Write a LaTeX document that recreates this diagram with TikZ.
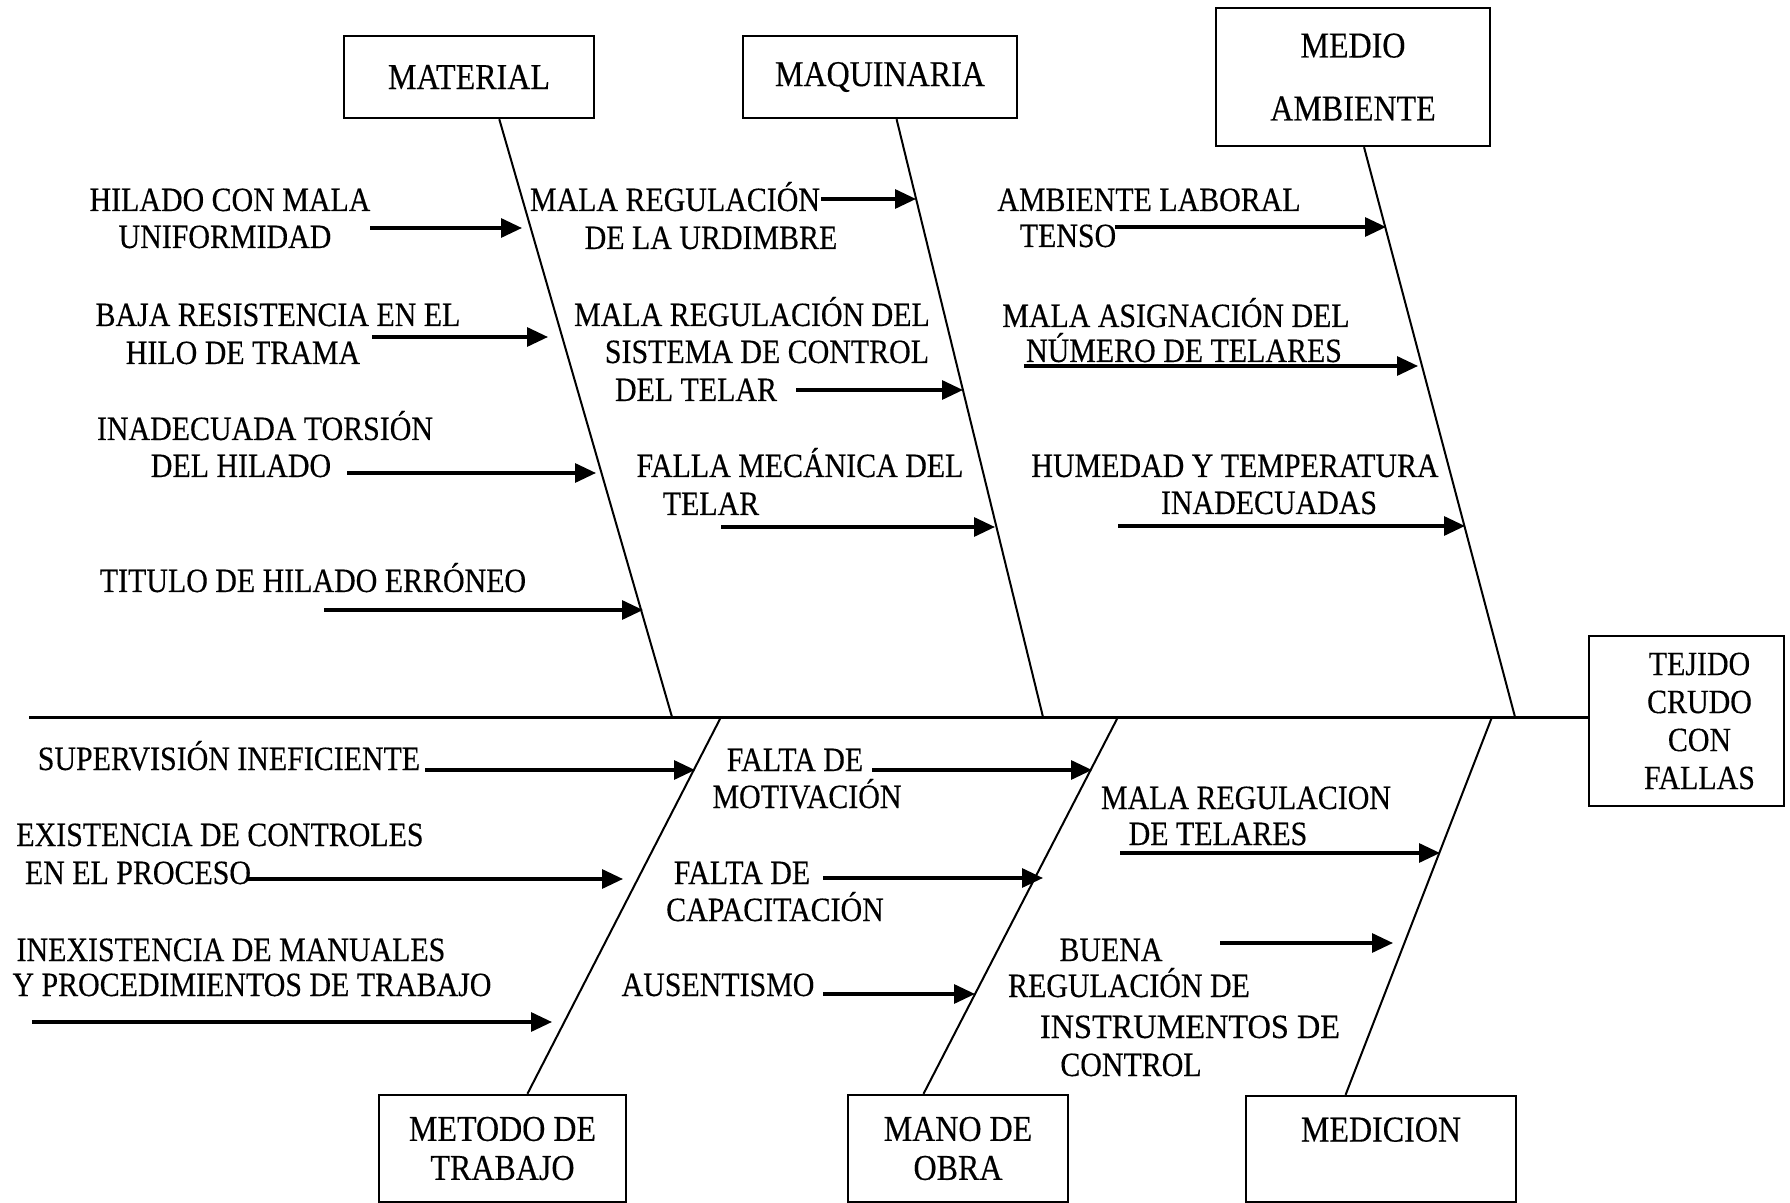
\documentclass[tikz,border=0pt]{standalone}
\usepackage{fontspec}
\setmainfont{Liberation Serif}[FakeStretch=0.88, FakeBold=0.3]
\usetikzlibrary{calc,arrows.meta}

\begin{document}
\begin{tikzpicture}[x=0.5pt, y=-0.5pt,
  box/.style={draw, line width=1.2pt, inner sep=0pt, align=center, font=\fontsize{18.2}{19.5}\selectfont},
  txt/.style={inner sep=0pt, anchor=base, font=\fontsize{17}{18.5}\selectfont},
  bone/.style={line width=1pt},
  arr/.style={line width=1.6pt, -{Triangle[length=10.5pt,width=9.5pt]}}]

  \useasboundingbox (0,0) rectangle (1790,1203);

  \node[box, minimum width=125pt, minimum height=41pt] (material) at (469,77) {MATERIAL};
  \node[box, minimum width=137pt, minimum height=41pt] (maquinaria) at (880,77) {MAQUINARIA};
  \node[box, minimum width=137pt, minimum height=69pt] (medio) at (1353,77) {MEDIO\\[12pt]AMBIENTE};
  \node[box, minimum width=97.5pt, minimum height=85pt, font=\fontsize{17}{19}\selectfont] (tejido) at (1686.5,721)
    {\hspace*{13pt}TEJIDO\\\hspace*{13pt}CRUDO\\\hspace*{13pt}CON\\\hspace*{13pt}FALLAS};
  \node[box, minimum width=123.5pt, minimum height=53.5pt] (metodo) at (502.5,1148.5) {METODO DE\\TRABAJO};
  \node[box, minimum width=110pt, minimum height=53.5pt] (mano) at (958,1148.5) {MANO DE\\OBRA};
  \node[box, minimum width=135pt, minimum height=53pt] (medicion) at (1381,1149) {MEDICION\\~};

  \node[txt] (mat1a) at (230,211) {HILADO CON MALA};
  \node[txt] (mat1b) at (225,248) {UNIFORMIDAD};
  \node[txt] (mat2a) at (278,326) {BAJA RESISTENCIA EN EL};
  \node[txt] (mat2b) at (243,364) {HILO DE TRAMA};
  \node[txt] (mat3a) at (265,440) {INADECUADA TORSIÓN};
  \node[txt] (mat3b) at (241,477) {DEL HILADO};
  \node[txt] (mat4a) at (313,592) {TITULO DE HILADO ERRÓNEO};

  \node[txt] (maq1a) at (675,211) {MALA REGULACIÓN};
  \node[txt] (maq1b) at (711,249) {DE LA URDIMBRE};
  \node[txt] (maq2a) at (752,326) {MALA REGULACIÓN DEL};
  \node[txt] (maq2b) at (767,363) {SISTEMA DE CONTROL};
  \node[txt] (maq2c) at (696,401) {DEL TELAR};
  \node[txt] (maq3a) at (800,477) {FALLA MECÁNICA DEL};
  \node[txt] (maq3b) at (711,515) {TELAR};

  \node[txt] (med1a) at (1149,211) {AMBIENTE LABORAL};
  \node[txt] (med1b) at (1068,247) {TENSO};
  \node[txt] (med2a) at (1176,327) {MALA ASIGNACIÓN DEL};
  \node[txt] (med2b) at (1184,362) {NÚMERO DE TELARES};
  \node[txt] (med3a) at (1235,477) {HUMEDAD Y TEMPERATURA};
  \node[txt] (med3b) at (1269,514) {INADECUADAS};

  \node[txt] (met1a) at (229,770) {SUPERVISIÓN INEFICIENTE};
  \node[txt] (met2a) at (220,846) {EXISTENCIA DE CONTROLES};
  \node[txt] (met2b) at (138,884) {EN EL PROCESO};
  \node[txt] (met3a) at (231,961) {INEXISTENCIA DE MANUALES};
  \node[txt] (met3b) at (252,996) {Y PROCEDIMIENTOS DE TRABAJO};

  \node[txt] (man1a) at (795,771) {FALTA DE};
  \node[txt] (man1b) at (807,808) {MOTIVACIÓN};
  \node[txt] (man2a) at (742,884) {FALTA DE};
  \node[txt] (man2b) at (775,921) {CAPACITACIÓN};
  \node[txt] (man3a) at (718,996) {AUSENTISMO};

  \node[txt] (mdc1a) at (1246,809) {MALA REGULACION};
  \node[txt] (mdc1b) at (1218,845) {DE TELARES};
  \node[txt] (mdc2a) at (1111,961) {BUENA};
  \node[txt] (mdc2b) at (1129,997) {REGULACIÓN DE};
  \node[txt, xscale=1.08] (mdc2c) at (1190,1038) {INSTRUMENTOS DE};
  \node[txt] (mdc2d) at (1131,1076) {CONTROL};

  % espina y huesos
  \coordinate (spine) at (29,717);
  \coordinate (matS) at (672,717);
  \coordinate (maqS) at (1043,717);
  \coordinate (medS) at (1515,717);
  \coordinate (metS) at (721,717);
  \coordinate (manS) at (1118,717);
  \coordinate (mdcS) at (1492,717);

  \draw[line width=1.5pt] (spine) -- (spine -| tejido.west);
  \draw[bone] ($(material.south west)!0.62!(material.south east)$) -- (matS);
  \draw[bone] ($(maquinaria.south west)!0.56!(maquinaria.south east)$) -- (maqS);
  \draw[bone] ($(medio.south west)!0.54!(medio.south east)$) -- (medS);
  \draw[bone] ($(metodo.north west)!0.6!(metodo.north east)$) -- (metS);
  \draw[bone] ($(mano.north west)!0.345!(mano.north east)$) -- (manS);
  \draw[bone] ($(medicion.north west)!0.37!(medicion.north east)$) -- (mdcS);

  % flechas
  \coordinate (mat1s) at (370,228);  \coordinate (mat1t) at (522,228);
  \coordinate (mat2s) at (372,337);  \coordinate (mat2t) at (548,337);
  \coordinate (mat3s) at (347,473);  \coordinate (mat3t) at (596,473);
  \coordinate (mat4s) at (324,610);  \coordinate (mat4t) at (643,610);
  \coordinate (maq1s) at (821,199);  \coordinate (maq1t) at (916,199);
  \coordinate (maq2s) at (796,390);  \coordinate (maq2t) at (963,390);
  \coordinate (maq3s) at (721,527);  \coordinate (maq3t) at (995,527);
  \coordinate (med1s) at (1115,227); \coordinate (med1t) at (1386,227);
  \coordinate (med2s) at (1024,366); \coordinate (med2t) at (1418,366);
  \coordinate (med3s) at (1118,526); \coordinate (med3t) at (1465,526);
  \coordinate (met1s) at (425,770);  \coordinate (met1t) at (695,770);
  \coordinate (met2s) at (247,879);  \coordinate (met2t) at (623,879);
  \coordinate (met3s) at (32,1022);  \coordinate (met3t) at (552,1022);
  \coordinate (man1s) at (872,770);  \coordinate (man1t) at (1092,770);
  \coordinate (man2s) at (823,878);  \coordinate (man2t) at (1043,878);
  \coordinate (man3s) at (823,994);  \coordinate (man3t) at (975,994);
  \coordinate (mdc1s) at (1120,853); \coordinate (mdc1t) at (1440,853);
  \coordinate (mdc2s) at (1220,943); \coordinate (mdc2t) at (1393,943);

  \draw (mat1s) edge[arr] (mat1t);
  \draw (mat2s) edge[arr] (mat2t);
  \draw (mat3s) edge[arr] (mat3t);
  \draw (mat4s) edge[arr] (mat4t);
  \draw (maq1s) edge[arr] (maq1t);
  \draw (maq2s) edge[arr] (maq2t);
  \draw (maq3s) edge[arr] (maq3t);
  \draw (med1s) edge[arr] (med1t);
  \draw (med2s) edge[arr] (med2t);
  \draw (med3s) edge[arr] (med3t);
  \draw (met1s) edge[arr] (met1t);
  \draw (met2s) edge[arr] (met2t);
  \draw (met3s) edge[arr] (met3t);
  \draw (man1s) edge[arr] (man1t);
  \draw (man2s) edge[arr] (man2t);
  \draw (man3s) edge[arr] (man3t);
  \draw (mdc1s) edge[arr] (mdc1t);
  \draw (mdc2s) edge[arr] (mdc2t);

\end{tikzpicture}
\end{document}
